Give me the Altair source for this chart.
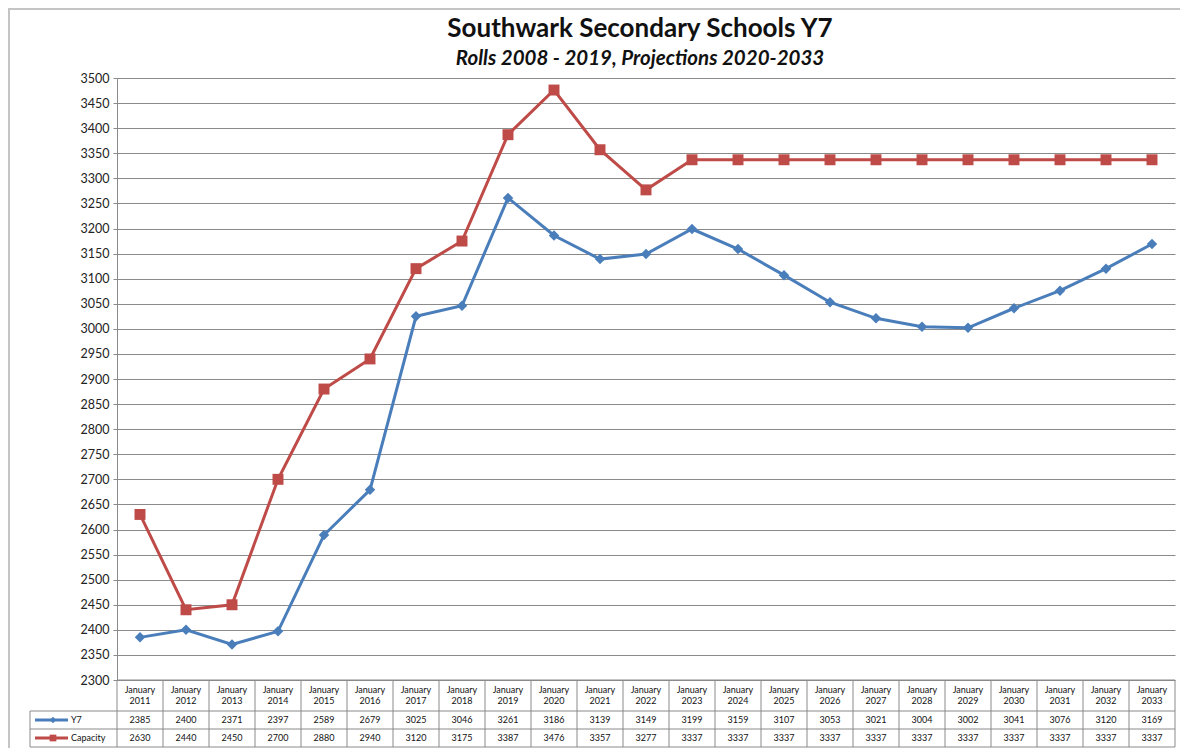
import altair as alt
import pandas as pd

# ---- data ----
years = [str(y) for y in range(2011, 2034)]
y7 = [2385, 2400, 2371, 2397, 2589, 2679, 3025, 3046, 3261, 3186, 3139, 3149,
      3199, 3159, 3107, 3053, 3021, 3004, 3002, 3041, 3076, 3120, 3169]
capacity = [2630, 2440, 2450, 2700, 2880, 2940, 3120, 3175, 3387, 3476, 3357, 3277,
            3337, 3337, 3337, 3337, 3337, 3337, 3337, 3337, 3337, 3337, 3337]
series_names = ["Y7", "Capacity"]
series_colors = ["#4A7EBB", "#BE4B48"]
series_shapes = ["diamond", "square"]
y_ticks = list(range(2300, 3501, 50))
title_text = "Southwark Secondary Schools Y7"
subtitle_text = "Rolls 2008 - 2019, Projections 2020-2033"

W, H = 1058, 602
FONT = "Lato"

rows = []
for i, yr in enumerate(years):
    rows.append({"idx": i, "year": yr, "series": "Y7", "value": y7[i]})
    rows.append({"idx": i, "year": yr, "series": "Capacity", "value": capacity[i]})
df = pd.DataFrame(rows)
cols = pd.DataFrame({"idx": list(range(len(years))), "year": years,
                     "jan": ["January"] * len(years), "y7": y7, "cap": capacity})
bounds = pd.DataFrame({"b": [i - 0.5 for i in range(len(years) + 1)]})

xs = alt.Scale(domain=[-0.5, len(years) - 0.5], nice=False, zero=False)
ys = alt.Scale(domain=[2300, 3500], nice=False, zero=False)
cs = alt.Scale(domain=series_names, range=series_colors)
ss = alt.Scale(domain=series_names, range=series_shapes)

base = alt.Chart(df)

lines = base.mark_line(strokeWidth=3).encode(
    x=alt.X("idx:Q", scale=xs, axis=None),
    y=alt.Y("value:Q", scale=ys, axis=alt.Axis(
        values=y_ticks, tickCount=25, grid=True, gridColor="#8a8a8a", gridWidth=1,
        domainColor="#8a8a8a", tickColor="#8a8a8a", tickSize=4,
        labelFont=FONT, labelFontSize=12.5, labelColor="#222", labelPadding=4,
        labelOverlap=False, format="d", title=None)),
    color=alt.Color("series:N", scale=cs, legend=None),
    detail="series:N",
)
points = base.mark_point(filled=True, opacity=1).encode(
    x=alt.X("idx:Q", scale=xs),
    y=alt.Y("value:Q", scale=ys),
    color=alt.Color("series:N", scale=cs, legend=None),
    shape=alt.Shape("series:N", scale=ss, legend=None),
    size=alt.condition("datum.series == 'Capacity'", alt.value(120), alt.value(110)),
)

# ---- data table below plot ----
tc = alt.Chart(cols)
txt_style = dict(font=FONT, fontSize=9, color="#111", baseline="middle", align="center")
hdr1 = tc.mark_text(**txt_style).encode(x=alt.X("idx:Q", scale=xs), y=alt.value(612), text="jan:N")
hdr2 = tc.mark_text(**txt_style).encode(x=alt.X("idx:Q", scale=xs), y=alt.value(623), text="year:N")
row1 = tc.mark_text(**txt_style).encode(x=alt.X("idx:Q", scale=xs), y=alt.value(642), text="y7:Q")
row2 = tc.mark_text(**txt_style).encode(x=alt.X("idx:Q", scale=xs), y=alt.value(660), text="cap:Q")

grid_c = "#8a8a8a"
vlines = alt.Chart(bounds).mark_rule(color=grid_c, strokeWidth=1).encode(
    x=alt.X("b:Q", scale=xs), y=alt.value(H), y2=alt.value(669))
one = alt.Chart(pd.DataFrame({"k": [0]}))
hlines = []
for yy in [633, 651, 669]:
    hlines.append(one.mark_rule(color=grid_c, strokeWidth=1).encode(
        x=alt.value(-87), x2=alt.value(W), y=alt.value(yy)))
hlines.append(one.mark_rule(color=grid_c, strokeWidth=1).encode(
    x=alt.value(-87), y=alt.value(633), y2=alt.value(669)))
hlines.append(one.mark_rule(color=grid_c, strokeWidth=1).encode(
    x=alt.value(0), x2=alt.value(W), y=alt.value(H)))

# legend keys in table
leg = []
for name, col, shp, yy, sz in zip(series_names, series_colors, series_shapes, [642, 660], [40, 45]):
    ld = pd.DataFrame({"n": [name]})
    leg.append(alt.Chart(ld).mark_rule(color=col, strokeWidth=3).encode(
        x=alt.value(-82), x2=alt.value(-49), y=alt.value(yy)))
    leg.append(alt.Chart(ld).mark_point(filled=True, opacity=1, color=col, shape=shp, size=sz).encode(
        x=alt.value(-64), y=alt.value(yy)))
    leg.append(alt.Chart(ld).mark_text(font=FONT, fontSize=9, color="#111", align="left",
                                       baseline="middle").encode(
        x=alt.value(-46), y=alt.value(yy), text="n:N"))

# frame
frame = [
    one.mark_rule(color="#c4c4c4", strokeWidth=2).encode(x=alt.value(-108), y=alt.value(-70), y2=alt.value(670)),
    one.mark_rule(color="#c4c4c4", strokeWidth=2).encode(x=alt.value(-109), x2=alt.value(W + 10), y=alt.value(-69)),
]

# titles
tdf = pd.DataFrame({"t": [title_text], "s": [subtitle_text]})
t1 = alt.Chart(tdf).mark_text(font=FONT, fontSize=26, fontWeight="bold", color="#111",
                              align="center", baseline="alphabetic").encode(
    x=alt.value(W / 2 - 6), y=alt.value(-41), text="t:N")
t2 = alt.Chart(tdf).mark_text(font=FONT, fontSize=20.5, fontWeight="bold", fontStyle="italic",
                              color="#111", align="center", baseline="alphabetic").encode(
    x=alt.value(W / 2 - 6), y=alt.value(-13), text="s:N")

chart = alt.layer(
    *frame, lines, points, vlines, *hlines, hdr1, hdr2, row1, row2, *leg, t1, t2
).properties(
    width=W, height=H,
    autosize=alt.AutoSizeParams(type="none"),
    padding={"left": 109, "top": 70, "right": 5, "bottom": 68},
    background="white",
).configure_view(strokeWidth=0)

chart.save("out.html", embed_options={"renderer": "svg", "actions": False})
